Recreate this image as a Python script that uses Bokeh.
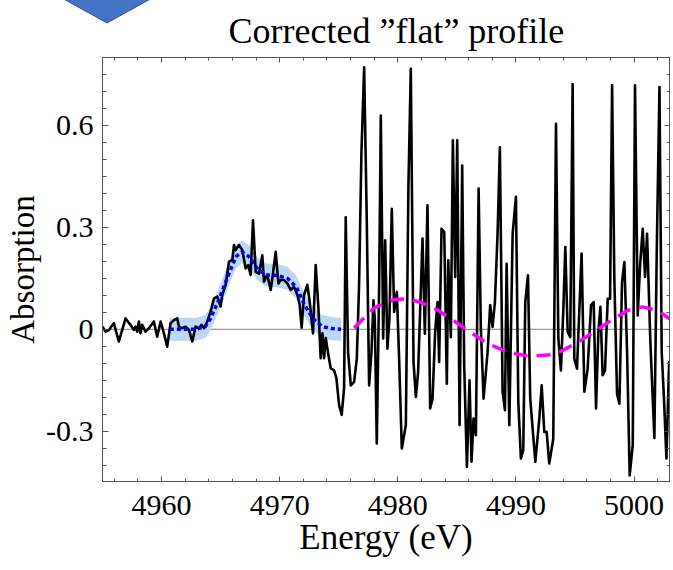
from bokeh.plotting import figure
from bokeh.layouts import column
from bokeh.models import (Range1d, LinearAxis, SingleIntervalTicker, Span,
                          CustomJSTickFormatter, Div)
from bokeh.embed import file_html
from bokeh.resources import INLINE

# ---------------- data ----------------
energy = [4955.00, 4955.25, 4955.54, 4955.96, 4956.38, 4956.95, 4957.37, 4957.66,
          4957.80, 4957.94, 4958.08, 4958.22, 4958.36, 4958.64, 4958.93, 4959.35,
          4959.63, 4959.92, 4960.20, 4960.48, 4960.76, 4961.05, 4961.33, 4961.47,
          4961.75, 4962.03, 4962.32, 4962.60, 4962.88, 4963.16, 4963.39, 4963.59,
          4963.87, 4964.15, 4964.44, 4964.72, 4965.00, 4965.14, 4965.42, 4965.71,
          4965.99, 4966.13, 4966.27, 4966.55, 4966.84, 4967.12, 4967.34, 4967.54,
          4967.74, 4967.97, 4968.25, 4968.53, 4968.67, 4968.95, 4969.24, 4969.38,
          4969.66, 4969.89, 4970.08, 4970.37, 4970.65, 4970.93, 4971.21, 4971.50,
          4971.69, 4971.86, 4972.06, 4972.34, 4972.54, 4972.82, 4973.05, 4973.28,
          4973.47, 4973.62, 4973.76, 4973.90, 4974.12, 4974.32, 4974.60, 4974.80,
          4975.03, 4975.25, 4975.45, 4975.59, 4975.79, 4976.02, 4976.30, 4976.53,
          4976.72, 4976.92, 4977.15, 4977.37, 4977.57, 4977.77, 4977.94, 4978.05,
          4978.22, 4978.42, 4978.56, 4978.76, 4978.93, 4979.12, 4979.29, 4979.49,
          4979.69, 4979.92, 4980.11, 4980.34, 4980.68, 4980.90, 4981.10, 4981.33,
          4981.53, 4981.72, 4982.09, 4982.29, 4982.51, 4982.74, 4982.94, 4983.16,
          4983.36, 4983.50, 4983.70, 4983.93, 4984.15, 4984.27, 4984.49, 4984.66,
          4984.86, 4985.03, 4985.23, 4985.45, 4985.62, 4985.85, 4986.07, 4986.24,
          4986.41, 4986.61, 4986.84, 4987.03, 4987.26, 4987.60, 4987.82, 4988.02,
          4988.22, 4988.45, 4988.64, 4988.87, 4989.07, 4989.21, 4989.44, 4989.72,
          4990.00, 4990.20, 4990.42, 4990.62, 4990.79, 4991.02, 4991.21, 4991.64,
          4991.98, 4992.18, 4992.40, 4992.60, 4992.82, 4993.16, 4993.39, 4993.59,
          4993.81, 4994.01, 4994.18, 4994.38, 4994.60, 4994.80, 4994.94, 4995.17,
          4995.37, 4995.56, 4995.79, 4996.07, 4996.36, 4996.58, 4996.78, 4996.98,
          4997.15, 4997.34, 4997.54, 4997.77, 4997.97, 4998.14, 4998.33, 4998.56,
          4998.76, 4998.98, 4999.18, 4999.41, 4999.63, 4999.89, 5000.08, 5000.31,
          5000.51, 5000.73, 5000.93, 5001.10, 5001.38, 5001.72, 5001.92, 5002.15,
          5002.34, 5002.54, 5002.74, 5002.97]
absorption = [0.008, -0.007, -0.002, 0.018, -0.036, 0.032, 0.013, -0.002,
              0.008, -0.007, 0.023, -0.012, 0.013, -0.007, 0.003, 0.023,
              -0.022, 0.023, -0.012, -0.051, 0.018, 0.027, 0.032, 0.008,
              0.003, 0.008, -0.002, -0.036, 0.008, 0.003, 0.013, 0.003,
              0.023, 0.052, 0.091, 0.096, 0.067, 0.101, 0.131, 0.199,
              0.204, 0.248, 0.233, 0.248, 0.233, 0.179, 0.189, 0.160,
              0.321, 0.169, 0.164, 0.218, 0.140, 0.160, 0.116, 0.150,
              0.228, 0.135, 0.145, 0.145, 0.135, 0.116, 0.125, 0.101,
              0.072, 0.005, 0.101, 0.131, 0.081, -0.012, 0.189, 0.062,
              -0.085, -0.012, -0.085, -0.026, -0.075, -0.115, -0.120, -0.144,
              -0.223, -0.252, -0.174, 0.330, -0.067, -0.165, -0.155, -0.086,
              0.129, 0.520, 0.771, 0.325, -0.165, -0.067, 0.085, 0.031,
              -0.336, 0.129, 0.629, -0.027, 0.262, -0.057, 0.031, 0.355,
              0.051, 0.110, -0.086, -0.351, -0.282, 0.425, 0.767, -0.096,
              -0.199, -0.125, 0.267, -0.013, 0.365, -0.233, -0.204, -0.008,
              0.080, -0.096, 0.296, 0.286, -0.160, 0.203, -0.023, 0.556,
              0.154, 0.556, -0.282, 0.482, -0.106, -0.405, -0.150, -0.390,
              -0.263, -0.312, 0.414, 0.002, -0.204, -0.067, 0.071, 0.007,
              0.080, 0.286, 0.536, -0.184, -0.238, 0.193, -0.282, 0.281,
              0.390, -0.214, -0.380, -0.356, 0.080, 0.159, -0.204, -0.390,
              -0.263, -0.165, -0.302, -0.302, -0.395, -0.322, 0.605, -0.027,
              -0.121, 0.056, 0.242, -0.008, -0.023, 0.722, -0.086, -0.116,
              0.061, 0.223, -0.184, -0.116, 0.071, 0.080, -0.233, -0.008,
              0.066, -0.135, -0.121, 0.090, 0.090, 0.718, 0.149, -0.190,
              -0.219, 0.139, 0.198, -0.067, -0.430, -0.340, 0.718, 0.041,
              0.188, 0.296, 0.154, 0.281, -0.037, -0.320, 0.228, 0.713,
              -0.067, -0.210, -0.380, -0.094]

fit_energy = [4960.7, 4961.8, 4962.9, 4963.7, 4964.15, 4964.9, 4965.6, 4966.3,
              4966.8, 4967.4, 4968.1, 4968.8, 4969.8, 4970.65, 4971.4, 4972.1,
              4972.8, 4973.6, 4974.4, 4975.2]
fit_absorption = [0.0, 0.0, 0.0, 0.008, 0.032, 0.091, 0.155, 0.214,
                  0.228, 0.214, 0.179, 0.160, 0.158, 0.150, 0.125, 0.072,
                  0.032, 0.008, 0.002, 0.0]
fit_uncertainty = 0.034

wave_energy = [4976.3, 4978.0, 4979.7, 4980.8, 4981.9, 4983.4, 4984.5, 4985.9,
               4987.6, 4989.3, 4991.0, 4992.7, 4993.8, 4995.2, 4996.6, 4998.05,
               4999.5, 5000.7, 5002.0, 5003.0]
wave_absorption = [0.004, 0.063, 0.088, 0.090, 0.080, 0.056, 0.031, -0.003,
                   -0.042, -0.067, -0.079, -0.076, -0.065, -0.039, -0.008, 0.026,
                   0.056, 0.066, 0.056, 0.031]

title_text = "Corrected \u201dflat\u201d profile"
x_label = "Energy (eV)"
y_label = "Absorption"

FONT = "Liberation Serif"
AX = "#555555"

p = figure(frame_width=567, frame_height=424,
           x_range=Range1d(4955, 5003), y_range=Range1d(-0.448, 0.80),
           output_backend="svg", toolbar_location=None,
           min_border_left=102, min_border_right=4,
           min_border_top=57, min_border_bottom=89,
           x_axis_label=x_label, y_axis_label=y_label)
p.grid.visible = False
p.outline_line_color = AX

p.title.text = title_text
p.title.align = "left"
p.title.vertical_align = "top"
p.title.text_font = FONT
p.title.text_font_size = "36px"
p.title.text_font_style = "normal"
p.title.text_color = "black"
p.title.offset = 126
p.title.standoff = 9

xt = SingleIntervalTicker(interval=10, num_minor_ticks=5)
yt = SingleIntervalTicker(interval=0.3, num_minor_ticks=6)
yfmt = CustomJSTickFormatter(code="return Math.abs(tick) < 1e-9 ? '0' : tick.toFixed(1);")
blank = CustomJSTickFormatter(code="return '';")

xa = p.xaxis[0]
ya = p.yaxis[0]
xa.ticker = xt
ya.ticker = yt
ya.formatter = yfmt
for a in (xa, ya):
    a.axis_line_color = AX
    a.major_tick_line_color = AX
    a.minor_tick_line_color = AX
    a.major_tick_out = 0
    a.minor_tick_out = 0
    a.major_label_text_font = FONT
    a.major_label_text_font_size = "30px"
    a.major_label_text_color = "black"
    a.axis_label_text_font = FONT
    a.axis_label_text_font_style = "normal"
    a.axis_label_text_color = "black"
xa.axis_label_text_font_size = "35px"
ya.axis_label_text_font_size = "33px"
xa.major_tick_in = 5
xa.minor_tick_in = 3
ya.major_tick_in = 6
ya.minor_tick_in = 4
xa.major_label_standoff = 14
xa.axis_label_standoff = 0
ya.major_label_standoff = 9
ya.axis_label_standoff = 2

for loc, tk in (("above", xt), ("right", yt)):
    ax = LinearAxis(ticker=tk, formatter=blank, major_label_text_font_size="1px",
                    major_label_standoff=0, axis_line_color=AX,
                    major_tick_line_color=AX, minor_tick_line_color=AX,
                    major_tick_in=5, major_tick_out=0, minor_tick_in=3, minor_tick_out=0)
    p.add_layout(ax, loc)

# uncertainty band of the fit
p.varea(x=fit_energy,
        y1=[v - fit_uncertainty for v in fit_absorption],
        y2=[v + fit_uncertainty for v in fit_absorption],
        fill_color="#bcd8f6", fill_alpha=1.0)

p.add_layout(Span(location=0, dimension="width", line_color="#808080",
                  line_width=1, level="underlay"))

p.line(energy, absorption, line_color="black", line_width=2.6, line_join="round")
p.line(fit_energy, fit_absorption, line_color="#0000ff", line_width=3.5, line_dash="4 3")
p.line(wave_energy, wave_absorption, line_color="#ff00ff", line_width=3.5, line_dash="14 9")

# decorative blue chevron cut off at the top-left corner (overlaid on the canvas)
chevron = Div(text=('<svg width="200" height="30" style="display:block">'
                    '<polygon points="60,-3 107,23 154,-3" fill="#4472c4" '
                    'stroke="#2f528f" stroke-width="1"/></svg>'),
              width=200, height=30, margin=(-570, 0, 0, 0))

layout = column(p, chevron, spacing=0)
open("out.html", "w").write(file_html(layout, INLINE))
